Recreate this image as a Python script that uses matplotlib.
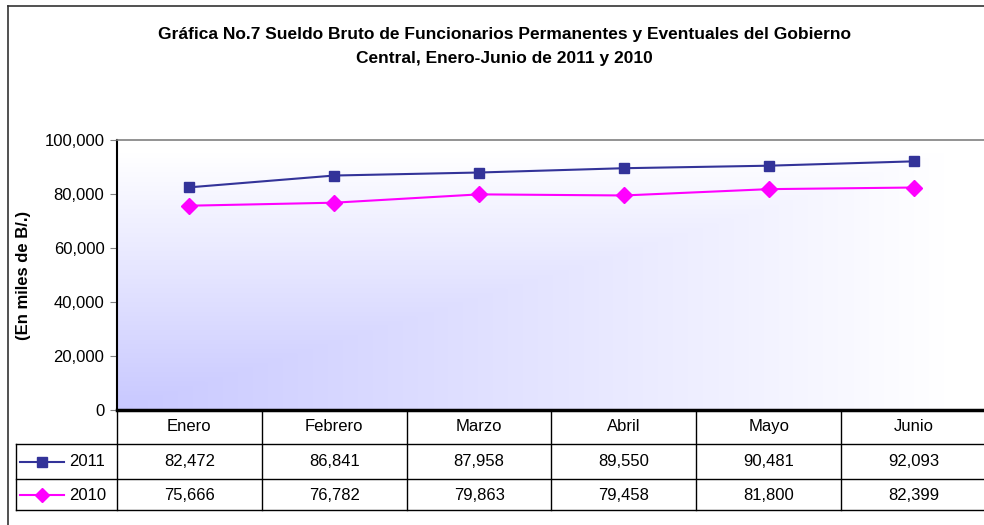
import numpy as np
import matplotlib.pyplot as plt
from matplotlib.lines import Line2D

# data
meses = ["Enero", "Febrero", "Marzo", "Abril", "Mayo", "Junio"]
valores_2011 = [82472, 86841, 87958, 89550, 90481, 92093]
valores_2010 = [75666, 76782, 79863, 79458, 81800, 82399]
titulo = ("Gráfica No.7 Sueldo Bruto de Funcionarios Permanentes y Eventuales del Gobierno\n"
          "Central, Enero-Junio de 2011 y 2010")

plt.rcParams['font.family'] = ['Liberation Sans', 'DejaVu Sans']

W, H = 984, 525
fig = plt.figure(figsize=(W / 100, H / 100), dpi=100)

# plot area in pixels
px_left, px_right, px_top, px_bottom = 117, 986, 140, 410
ax = fig.add_axes([px_left / W, 1 - px_bottom / H,
                   (px_right - px_left) / W, (px_bottom - px_top) / H])

# corner gradient background (blue at bottom-left, fading to white)
u = np.linspace(0, 1, 400)
v = np.linspace(0, 1, 200)
U, V = np.meshgrid(u, v)
t = np.clip(np.maximum(U, V) * 1.05, 0, 1)
c0 = np.array([200, 200, 255]) / 255
c1 = np.array([1.0, 1.0, 1.0])
img = c0[None, None, :] * (1 - t[..., None]) + c1[None, None, :] * t[..., None]
ax.imshow(img, extent=[0, 1, 0, 1], transform=ax.transAxes, origin='lower',
          aspect='auto', zorder=0)

x = np.arange(len(meses))
ax.plot(x, valores_2011, color='#333399', marker='s', markersize=7, lw=1.5, zorder=3)
ax.plot(x, valores_2010, color='#FF00FF', marker='D', markersize=8, lw=1.5, zorder=3)

ax.set_xlim(-0.5, len(meses) - 0.5)
ax.set_ylim(0, 100000)
ax.set_yticks(np.arange(0, 100001, 20000))
ax.set_yticklabels([f"{int(v):,}" for v in np.arange(0, 100001, 20000)], fontsize=12)
ax.tick_params(axis='y', direction='out', length=5, color='#808080', pad=4)
ax.set_xticks([])
ax.spines['right'].set_visible(False)
ax.spines['top'].set_color('#808080')
ax.spines['top'].set_linewidth(1.2)
ax.spines['left'].set_linewidth(1.5)
ax.spines['bottom'].set_linewidth(2.5)
ax.set_ylabel("(En miles de B/.)", fontsize=12, fontweight='bold')
ax.yaxis.set_label_coords((31 - px_left) / (px_right - px_left), 0.5)

# data table below the plot
ph = px_bottom - px_top
def ya(ypix):
    return (px_bottom - ypix) / ph

pw = px_right - px_left
def xa(xpix):
    return (xpix - px_left) / pw

rows_y = [410, 444, 479, 510]
trans = ax.get_xaxis_transform()
lc = '#000000'
lw = 1.0
# vertical column separators
for b in np.arange(-0.5, len(meses) - 0.5, 1.0):
    ax.add_line(Line2D([b, b], [ya(rows_y[0]), ya(rows_y[3])], transform=trans,
                       color=lc, lw=lw, clip_on=False))
# horizontal lines
for yy in rows_y[1:]:
    ax.add_line(Line2D([xa(16), 1.0], [ya(yy), ya(yy)], transform=ax.transAxes,
                       color=lc, lw=lw, clip_on=False))
ax.add_line(Line2D([xa(16), xa(16)], [ya(rows_y[1]), ya(rows_y[3])], transform=ax.transAxes,
                   color=lc, lw=lw, clip_on=False))

for i, m in enumerate(meses):
    ax.text(i, ya((rows_y[0] + rows_y[1]) / 2 + 4), m, transform=trans, ha='center',
            va='baseline', fontsize=12)
    ax.text(i, ya((rows_y[1] + rows_y[2]) / 2 + 5), f"{valores_2011[i]:,}", transform=trans,
            ha='center', va='baseline', fontsize=12)
    ax.text(i, ya((rows_y[2] + rows_y[3]) / 2 + 5), f"{valores_2010[i]:,}", transform=trans,
            ha='center', va='baseline', fontsize=12)

# legend keys in the table
for yy0, yy1, col, mk, ms, lab in [(rows_y[1], rows_y[2], '#333399', 's', 7, "2011"),
                                   (rows_y[2], rows_y[3], '#FF00FF', 'D', 7, "2010")]:
    ym = ya((yy0 + yy1) / 2)
    ax.add_line(Line2D([xa(20), xa(64)], [ym, ym], transform=ax.transAxes, color=col,
                       lw=1.5, clip_on=False))
    ax.add_line(Line2D([xa(42)], [ym], transform=ax.transAxes, color=col, marker=mk,
                       markersize=ms, lw=0, clip_on=False))
    ax.text(xa(69), ya((yy0 + yy1) / 2 + 5), lab, transform=ax.transAxes, ha='left',
            va='baseline', fontsize=12)

# title
fig.text(504 / W, 1 - 46 / H, titulo, ha='center', va='center', fontsize=12.5,
         fontweight='bold', linespacing=1.75)

# outer frame
fig.add_artist(Line2D([8 / W, 8 / W], [0, 1 - 6 / H], color='#333333', lw=1.2))
fig.add_artist(Line2D([8 / W, 1], [1 - 6 / H, 1 - 6 / H], color='#333333', lw=1.2))

fig.savefig("out.png", dpi=100)
